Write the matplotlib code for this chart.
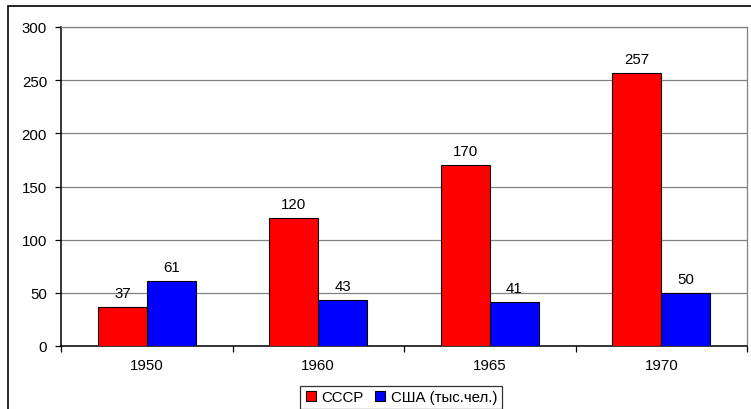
import matplotlib.pyplot as plt
from matplotlib.patches import Rectangle
from matplotlib.lines import Line2D

plt.rcParams["font.family"] = ["Liberation Sans", "DejaVu Sans"]

years = ["1950", "1960", "1965", "1970"]
ussr = [37, 120, 170, 257]
usa = [61, 43, 41, 50]
series_names = ["СССР", "США (тыс.чел.)"]

W, H = 751, 410
FS = 10.8
fig = plt.figure(figsize=(W / 100, H / 100), dpi=100)

# outer chart border (right and bottom are cut off in the original)
fig.patches.append(Rectangle(
    (8 / W, -0.1), 1.2, 1 - 7 / H + 0.1,
    transform=fig.transFigure, fill=False,
    edgecolor="black", linewidth=1.2, clip_on=False,
))

ax = fig.add_axes([61 / W, (H - 347) / H, 686 / W, 319 / H])

x = list(range(len(years)))
w = 0.285

bars1 = ax.bar([i - w / 2 for i in x], ussr, width=w,
               color="#ff0000", edgecolor="black", linewidth=0.8, zorder=3)
bars2 = ax.bar([i + w / 2 for i in x], usa, width=w,
               color="#0000ff", edgecolor="black", linewidth=0.8, zorder=3)

for bars, vals in ((bars1, ussr), (bars2, usa)):
    for b, v in zip(bars, vals):
        ax.annotate(str(v), (b.get_x() + b.get_width() / 2, v),
                    xytext=(0, 5), textcoords="offset points",
                    ha="center", va="bottom", fontsize=FS)

ax.set_xlim(-0.5, len(years) - 0.5)
ax.set_ylim(0, 300)
ax.set_yticks(range(0, 301, 50))
ax.yaxis.grid(True, color="#808080", linewidth=0.9, zorder=0)

ax.set_xticks(x)
ax.set_xticklabels(years)
ax.set_xticks([i - 0.5 for i in range(len(years) + 1)], minor=True)
ax.tick_params(axis="x", which="major", length=0, pad=9, labelsize=FS)
ax.tick_params(axis="x", which="minor", length=4, width=0.9, direction="out")
ax.tick_params(axis="y", length=4, width=0.9, direction="out", pad=6,
               labelsize=FS)

for s in ("top", "right"):
    ax.spines[s].set_color("#808080")
    ax.spines[s].set_linewidth(0.9)
for s in ("left", "bottom"):
    ax.spines[s].set_color("black")
    ax.spines[s].set_linewidth(1.1)

handles = [
    Line2D([], [], marker="s", linestyle="none", markersize=7,
           markerfacecolor=c, markeredgecolor="black", markeredgewidth=0.8)
    for c in ("#ff0000", "#0000ff")
]
leg = fig.legend(handles, series_names, loc="upper center",
                 bbox_to_anchor=(401 / W, 1 - 387 / H), ncol=2,
                 fontsize=FS, frameon=True, fancybox=False,
                 handlelength=0.8, handletextpad=0.3, columnspacing=0.7,
                 borderpad=0.3, borderaxespad=0)
leg.get_frame().set_edgecolor("black")
leg.get_frame().set_linewidth(0.9)

fig.savefig("out.png", dpi=100)
